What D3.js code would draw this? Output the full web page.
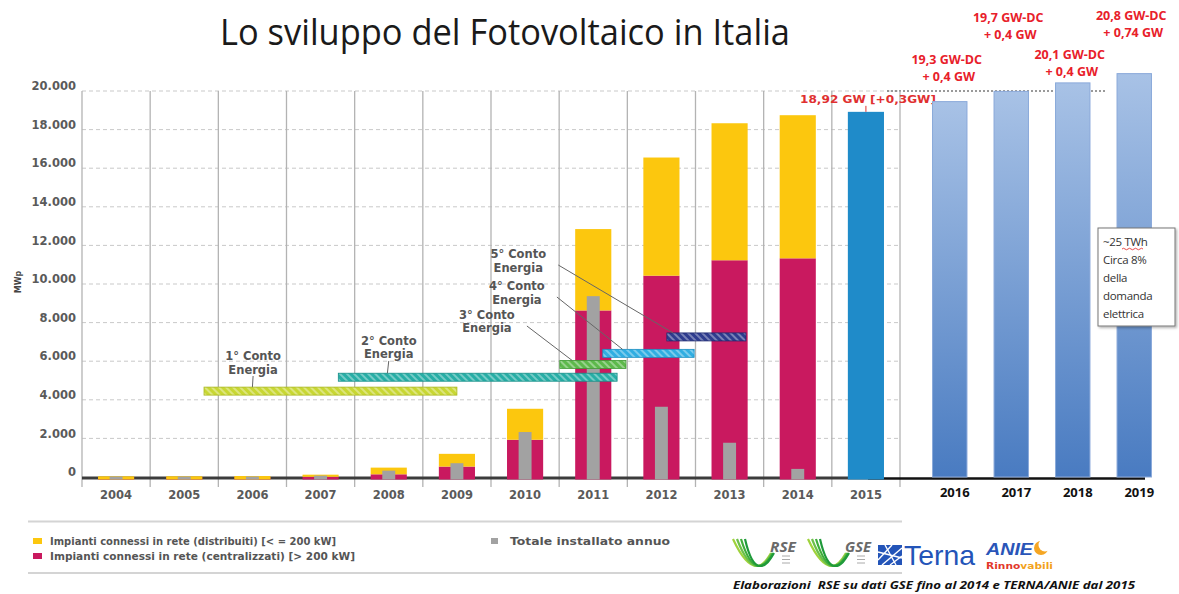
<!DOCTYPE html>
<html>
<head>
    <meta charset="utf-8">
    <title>Lo sviluppo del Fotovoltaico in Italia</title>
</head>
<body>
<style type="text/css">
    body {
        margin: 0;
        background: #fff;
    }

    #renderer {
        width: 1179px;
        height: 594px;
        background: #fff;
        display: block;
    }
</style>
<script type="text/javascript" src="https://cdnjs.cloudflare.com/ajax/libs/d3/7.8.5/d3.min.js"></script>
<svg id="renderer" width="1179" height="594"></svg>

<script type="text/javascript">
    // dati in MW
    var years = ['2004', '2005', '2006', '2007', '2008', '2009', '2010', '2011', '2012', '2013', '2014', '2015'];
    var histYears = ['2004', '2005', '2006', '2007', '2008', '2009', '2010', '2011', '2012', '2013', '2014'];
    var centralizzati = [0, 0, 0, 10, 140, 540, 1930, 8630, 10430, 11230, 11330];
    var distribuiti = [35, 38, 50, 110, 346, 660, 1605, 4216, 6123, 7099, 7416];
    var totaleAnnuo = [20, 20, 25, 70, 330, 715, 2330, 9370, 3640, 1775, 420];
    var value2015 = 18920;
    var futureYears = ['2016', '2017', '2018', '2019'];
    var futureValues = [19450, 19980, 20420, 20900];
    var futureLabels = ['19,3 GW-DC', '19,7 GW-DC', '20,1 GW-DC', '20,8 GW-DC'];
    var futureAdds = ['+ 0,4 GW', '+ 0,4 GW', '+ 0,4 GW', '+ 0,74 GW'];
    var yTicks = [0, 2000, 4000, 6000, 8000, 10000, 12000, 14000, 16000, 18000, 20000];

    // conti energia (periodo in anni, livello in MW)
    var contoNames = ['1° Conto', '2° Conto', '3° Conto', '4° Conto', '5° Conto'];
    var contoStart = [2005.79, 2007.76, 2011.01, 2011.64, 2012.58];
    var contoEnd = [2009.50, 2011.85, 2011.98, 2012.98, 2013.74];
    var contoLevel = [4450, 5170, 5833, 6407, 7258];

    var contoColors = ['#c8d733', '#27aea6', '#5db94b', '#30aee2', '#2e3c8e'];
    var contoStroke = ['#a9b81e', '#168e88', '#3f9a33', '#1b8fc2', '#1c2870'];
    // posizione delle etichette (anno, MW) e punto di arrivo delle linee
    var contoLabelAt = [[2006.51, 6269], [2008.50, 7047], [2009.94, 8394], [2010.38, 9896], [2010.40, 11554]];
    var contoLeaderTo = [2006.50, 2008.48, 2011.19, 2011.93, 2012.67];
    var futureLabelY = [60, 18, 55, 16];

    var root = d3.select('#renderer');
    var font = '"DejaVu Sans", sans-serif';
    var calibri = '"Open Sans", "Noto Sans", sans-serif';

    var axisLeftX = 82;
    var axisRightX = 900;

    var y = d3.scaleLinear().domain([0, 20000]).range([477, 91]);
    var xTime = d3.scaleLinear().domain([2004, 2016]).range([axisLeftX, axisRightX]);
    var xBand = d3.scaleBand().domain(years).range([axisLeftX, axisRightX]);
    var xFuture = d3.scaleBand().domain(futureYears).range([919, 1165]);
    var barW = xBand.bandwidth() * 0.53;
    var grayW = xBand.bandwidth() * 0.19;
    var futureW = xFuture.bandwidth() * 0.56;
    var base = y(0) + 2.5;

    var itFormat = d3.formatLocale({decimal: ',', thousands: '.', grouping: [3], currency: ['', '']}).format(',');

    var defs = root.append('defs');
    var grad = defs.append('linearGradient').attr('id', 'futureGrad')
        .attr('x1', 0).attr('y1', 0).attr('x2', 0).attr('y2', 1);
    grad.append('stop').attr('offset', '0%').attr('stop-color', '#a8c2e6');
    grad.append('stop').attr('offset', '100%').attr('stop-color', '#497bc1');

    contoColors.forEach(function (c, i) {
        var p = defs.append('pattern').attr('id', 'hatch' + i)
            .attr('patternUnits', 'userSpaceOnUse')
            .attr('width', 5).attr('height', 5)
            .attr('patternTransform', 'rotate(-45)');
        p.append('rect').attr('width', 5).attr('height', 5).attr('fill', c);
        p.append('line').attr('x1', 1).attr('y1', 0).attr('x2', 1).attr('y2', 5)
            .attr('stroke', '#fff').attr('stroke-opacity', 0.45).attr('stroke-width', 1.6);
    });

    var shadow = defs.append('filter').attr('id', 'shadow').attr('x', '-10%').attr('y', '-10%')
        .attr('width', '130%').attr('height', '130%');
    shadow.append('feDropShadow').attr('dx', 1.5).attr('dy', 1.5).attr('stdDeviation', 1.2)
        .attr('flood-color', '#000').attr('flood-opacity', 0.3);

    // titolo
    root.append('text')
        .text('Lo sviluppo del Fotovoltaico in Italia')
        .attr('x', 220)
        .attr('y', 45)
        .attr('font-family', calibri)
        .attr('font-size', 36)
        .attr('textLength', 570)
        .attr('lengthAdjust', 'spacingAndGlyphs')
        .attr('fill', '#1a1a1a');

    // griglia orizzontale
    root.append('g').selectAll('line')
        .data(yTicks.filter(function (d) { return d > 0; }))
        .join('line')
        .attr('x1', axisLeftX)
        .attr('x2', axisRightX)
        .attr('y1', function (d) { return y(d); })
        .attr('y2', function (d) { return y(d); })
        .attr('stroke', '#c9c9c9')
        .attr('stroke-dasharray', '4,3');

    root.append('line')
        .attr('x1', 887).attr('x2', 1107)
        .attr('y1', y(20000)).attr('y2', y(20000))
        .attr('stroke', '#7a7a7a')
        .attr('stroke-width', 1.5)
        .attr('stroke-dasharray', '2,2');

    // griglia verticale
    root.append('g').selectAll('line')
        .data(d3.range(2004, 2017))
        .join('line')
        .attr('x1', function (d) { return xTime(d); })
        .attr('x2', function (d) { return xTime(d); })
        .attr('y1', y(20000))
        .attr('y2', y(0) + 10)
        .attr('stroke', '#b3b3b3')
        .attr('stroke-width', 1.3);

    // asse y
    root.append('g')
        .attr('transform', 'translate(' + axisLeftX + ',0)')
        .call(d3.axisLeft(y).tickValues(yTicks).tickSize(0).tickPadding(6).tickFormat(itFormat))
        .call(function (g) { g.select('.domain').remove(); })
        .selectAll('text')
        .attr('y', -5)
        .attr('font-family', font)
        .attr('font-weight', 'bold')
        .attr('font-size', 11.5)
        .attr('fill', '#5a5a5a');

    root.append('text')
        .text('MWp')
        .attr('transform', 'translate(21,282) rotate(-90)')
        .attr('text-anchor', 'middle')
        .attr('font-family', font)
        .attr('font-weight', 'bold')
        .attr('font-size', 8)
        .attr('fill', '#444');

    // asse x
    root.append('g')
        .attr('transform', 'translate(0,' + y(0) + ')')
        .call(d3.axisBottom(xBand).tickSize(0).tickPadding(14))
        .call(function (g) { g.select('.domain').remove(); })
        .selectAll('text')
        .attr('font-family', font)
        .attr('font-weight', 'bold')
        .attr('font-size', 11.5)
        .attr('fill', '#5a5a5a');

    root.append('g')
        .attr('transform', 'translate(5,' + y(0) + ')')
        .call(d3.axisBottom(xFuture).tickSize(0).tickPadding(11))
        .call(function (g) { g.select('.domain').remove(); })
        .selectAll('text')
        .attr('font-family', calibri)
        .attr('font-weight', 'bold')
        .attr('font-size', 13)
        .attr('fill', '#111');

    // linea di base
    root.append('line')
        .attr('x1', axisLeftX).attr('x2', 868)
        .attr('y1', y(0) + 1).attr('y2', y(0) + 1)
        .attr('stroke', '#3c3c3c').attr('stroke-width', 3);
    root.append('line')
        .attr('x1', 868).attr('x2', 1145)
        .attr('y1', y(0) + 1.5).attr('y2', y(0) + 1.5)
        .attr('stroke', '#111').attr('stroke-width', 2.5);

    // barre impilate 2004-2014
    var table = histYears.map(function (yr, i) {
        return {year: yr, centralizzati: centralizzati[i], distribuiti: distribuiti[i], annuo: totaleAnnuo[i]};
    });
    var stack = d3.stack().keys(['centralizzati', 'distribuiti'])(table);
    var stackColors = {centralizzati: '#c9195f', distribuiti: '#fcc70e'};

    root.append('g').selectAll('g')
        .data(stack)
        .join('g')
        .attr('fill', function (d) { return stackColors[d.key]; })
        .selectAll('rect')
        .data(function (d) { return d; })
        .join('rect')
        .attr('x', function (d) { return xBand(d.data.year) + (xBand.bandwidth() - barW) / 2; })
        .attr('width', barW)
        .attr('y', function (d) { return y(d[1]); })
        .attr('height', function (d) { return (d[0] === 0 ? base : y(d[0])) - y(d[1]); });

    root.append('g').selectAll('rect')
        .data(table)
        .join('rect')
        .attr('x', function (d) { return xBand(d.year) + (xBand.bandwidth() - grayW) / 2; })
        .attr('width', grayW)
        .attr('y', function (d) { return y(d.annuo); })
        .attr('height', function (d) { return base - y(d.annuo); })
        .attr('fill', '#a2a2a2');

    // 2015
    root.append('rect')
        .attr('x', xBand('2015') + (xBand.bandwidth() - barW) / 2)
        .attr('width', barW)
        .attr('y', y(value2015))
        .attr('height', base - y(value2015))
        .attr('fill', '#1f8bc9');

    root.append('line')
        .attr('x1', xBand('2015') + xBand.bandwidth() / 2)
        .attr('x2', xBand('2015') + xBand.bandwidth() / 2)
        .attr('y1', y(value2015) - 6).attr('y2', y(value2015))
        .attr('stroke', '#e03030').attr('stroke-width', 1);

    root.append('text')
        .text('18,92 GW [+0,3GW]')
        .attr('x', 800)
        .attr('y', y(value2015) - 9)
        .attr('font-family', font)
        .attr('font-weight', 'bold')
        .attr('font-size', 10.5)
        .attr('textLength', 136)
        .attr('lengthAdjust', 'spacingAndGlyphs')
        .attr('fill', '#e03030');

    // previsioni 2016-2019
    root.append('g').selectAll('rect')
        .data(futureYears)
        .join('rect')
        .attr('x', function (d) { return xFuture(d) + (xFuture.bandwidth() - futureW) / 2; })
        .attr('width', futureW)
        .attr('y', function (d, i) { return y(futureValues[i]); })
        .attr('height', function (d, i) { return y(0) - y(futureValues[i]); })
        .attr('fill', 'url(#futureGrad)')
        .attr('stroke', '#8aa9da')
        .attr('stroke-width', 1);

    futureYears.forEach(function (d, i) {
        var cx = xFuture(d) + xFuture.bandwidth() / 2 - 3;
        var t = root.append('text')
            .attr('text-anchor', 'middle')
            .attr('font-family', calibri)
            .attr('font-weight', 'bold')
            .attr('font-size', 12.5)
            .attr('fill', '#e8202a');
        t.append('tspan').attr('x', cx).attr('y', futureLabelY[i] + 4).text(futureLabels[i]);
        t.append('tspan').attr('x', cx + 2).attr('y', futureLabelY[i] + 21).text(futureAdds[i]);
    });

    // conti energia
    contoNames.forEach(function (name, i) {
        root.append('rect')
            .attr('x', xTime(contoStart[i]))
            .attr('y', y(contoLevel[i]) - 4)
            .attr('width', xTime(contoEnd[i]) - xTime(contoStart[i]))
            .attr('height', 8)
            .attr('fill', 'url(#hatch' + i + ')')
            .attr('stroke', contoStroke[i])
            .attr('stroke-width', 0.8);

        var lx = xTime(contoLabelAt[i][0]);
        var ly = y(contoLabelAt[i][1]);
        var t = root.append('text')
            .attr('text-anchor', 'middle')
            .attr('font-family', font)
            .attr('font-weight', 'bold')
            .attr('font-size', 11.5)
            .attr('fill', '#555');
        t.append('tspan').attr('x', lx).attr('y', ly + 4).text(name);
        t.append('tspan').attr('x', lx).attr('y', ly + 17.5).text('Energia');

        var x1, y1;
        if (i < 2) {
            x1 = lx;
            y1 = ly + 20;
        } else {
            x1 = lx + 40;
            y1 = ly + 11;
        }
        root.append('line')
            .attr('x1', x1).attr('y1', y1)
            .attr('x2', xTime(contoLeaderTo[i])).attr('y2', y(contoLevel[i]) - 4)
            .attr('stroke', '#666')
            .attr('stroke-width', 1);
    });

    // riquadro di testo
    root.append('rect')
        .attr('x', 1098).attr('y', 228)
        .attr('width', 77).attr('height', 98)
        .attr('fill', '#fff')
        .attr('stroke', '#777')
        .attr('stroke-width', 1)
        .attr('filter', 'url(#shadow)');
    var boxLines = ['~25 TWh', 'Circa 8%', 'della', 'domanda', 'elettrica'];
    root.append('g').selectAll('text')
        .data(boxLines)
        .join('text')
        .text(function (d) { return d; })
        .attr('x', 1103)
        .attr('y', function (d, i) { return 246 + i * 18; })
        .attr('font-family', calibri)
        .attr('font-size', 11.5)
        .attr('letter-spacing', -0.3)
        .attr('fill', '#333');
    root.append('path')
        .attr('d', 'M1122,249 q1.5,-1.5 3,0 t3,0 t3,0 t3,0 t3,0 t3,0 t3,0')
        .attr('fill', 'none')
        .attr('stroke', '#e02020')
        .attr('stroke-width', 0.8);

    // legenda
    root.append('line').attr('x1', 28).attr('x2', 902).attr('y1', 521.5).attr('y2', 521.5)
        .attr('stroke', '#d4d4d4').attr('stroke-width', 2);
    root.append('line').attr('x1', 28).attr('x2', 902).attr('y1', 573).attr('y2', 573)
        .attr('stroke', '#d4d4d4').attr('stroke-width', 2);

    var legendItems = [
        {label: 'Impianti connessi in rete (distribuiti) [< = 200 kW]', color: '#fcc70e', x: 33, y: 541, len: 286},
        {label: 'Impianti connessi in rete (centralizzati) [> 200 kW]', color: '#c9195f', x: 33, y: 556, len: 305},
        {label: 'Totale installato annuo', color: '#a2a2a2', x: 491, y: 541, len: 160}
    ];
    legendItems.forEach(function (d) {
        root.append('rect')
            .attr('x', d.x).attr('y', d.y - 3)
            .attr('width', d.color === '#a2a2a2' ? 7 : 9).attr('height', 6)
            .attr('fill', d.color);
        root.append('text')
            .text(d.label)
            .attr('x', d.x + (d.color === '#a2a2a2' ? 19 : 17))
            .attr('y', d.y + 3.5)
            .attr('font-family', font)
            .attr('font-weight', 'bold')
            .attr('font-size', 10)
            .attr('textLength', d.len)
            .attr('lengthAdjust', 'spacingAndGlyphs')
            .attr('fill', '#555');
    });

    // loghi
    function swoosh(x0, label) {
        var g = root.append('g').attr('transform', 'translate(' + x0 + ',0)');
        var greens = ['#9fd23c', '#6cc04a', '#3fae3a', '#1f9a3a'];
        greens.forEach(function (c, k) {
            g.append('path')
                .attr('d', 'M' + (k * 4) + ',539 C' + (6 + k * 3) + ',552 ' + (14 + k * 2) + ',566 ' + (24 + k) + ',566 C' + (30 + k) + ',566 ' + (34 + k) + ',560 ' + (38 + k) + ',553')
                .attr('fill', 'none')
                .attr('stroke', c)
                .attr('stroke-width', 2.2);
        });
        g.append('text')
            .text(label)
            .attr('x', 37).attr('y', 552)
            .attr('font-family', calibri)
            .attr('font-style', 'italic')
            .attr('font-weight', 'bold')
            .attr('font-size', 15)
            .attr('textLength', 26)
            .attr('lengthAdjust', 'spacingAndGlyphs')
            .attr('fill', '#6a6a6a');
        [556, 559.5, 563].forEach(function (yy) {
            g.append('line').attr('x1', 49).attr('x2', 57).attr('y1', yy).attr('y2', yy)
                .attr('stroke', '#aaa').attr('stroke-width', 1);
        });
    }
    swoosh(733, 'RSE');
    swoosh(808, 'GSE');

    var terna = root.append('g');
    terna.append('rect').attr('x', 878).attr('y', 545).attr('width', 24).attr('height', 20).attr('fill', '#2354b8');
    [[878, 560, 892, 545], [882, 565, 902, 548], [890, 565, 902, 556], [878, 552, 902, 558], [885, 545, 896, 565]].forEach(function (l) {
        terna.append('line')
            .attr('x1', l[0]).attr('y1', l[1]).attr('x2', l[2]).attr('y2', l[3])
            .attr('stroke', '#fff').attr('stroke-width', 1.4);
    });
    terna.append('text')
        .text('Terna')
        .attr('x', 904).attr('y', 565)
        .attr('font-family', '"Liberation Sans", Arial, sans-serif')
        .attr('font-size', 28)
        .attr('textLength', 71)
        .attr('lengthAdjust', 'spacingAndGlyphs')
        .attr('fill', '#2354b8');

    var anie = root.append('g');
    anie.append('text')
        .text('ANIE')
        .attr('x', 986).attr('y', 555)
        .attr('font-family', '"Liberation Sans", Arial, sans-serif')
        .attr('font-weight', 'bold')
        .attr('font-style', 'italic')
        .attr('font-size', 17)
        .attr('textLength', 47)
        .attr('lengthAdjust', 'spacingAndGlyphs')
        .attr('fill', '#2a55b8');
    anie.append('circle').attr('cx', 1041).attr('cy', 548).attr('r', 7).attr('fill', '#f5a623');
    anie.append('circle').attr('cx', 1045).attr('cy', 545).attr('r', 6.5).attr('fill', '#fff');
    var rin = anie.append('text')
        .attr('x', 986).attr('y', 569)
        .attr('font-family', '"DejaVu Sans", sans-serif')
        .attr('font-weight', 'bold')
        .attr('font-size', 9)
        .attr('textLength', 67)
        .attr('lengthAdjust', 'spacingAndGlyphs');
    rin.append('tspan').text('Rinno').attr('fill', '#e2382a');
    rin.append('tspan').text('vabili').attr('fill', '#f2a21c');

    // nota
    root.append('text')
        .text('Elaborazioni  RSE su dati GSE fino al 2014 e TERNA/ANIE dal 2015')
        .attr('x', 733).attr('y', 589)
        .attr('xml:space', 'preserve')
        .style('white-space', 'pre')
        .attr('font-family', calibri)
        .attr('font-weight', 'bold')
        .attr('font-style', 'italic')
        .attr('font-size', 11)
        .attr('textLength', 402)
        .attr('lengthAdjust', 'spacingAndGlyphs')
        .attr('fill', '#111');
</script>
</body>
</html>
